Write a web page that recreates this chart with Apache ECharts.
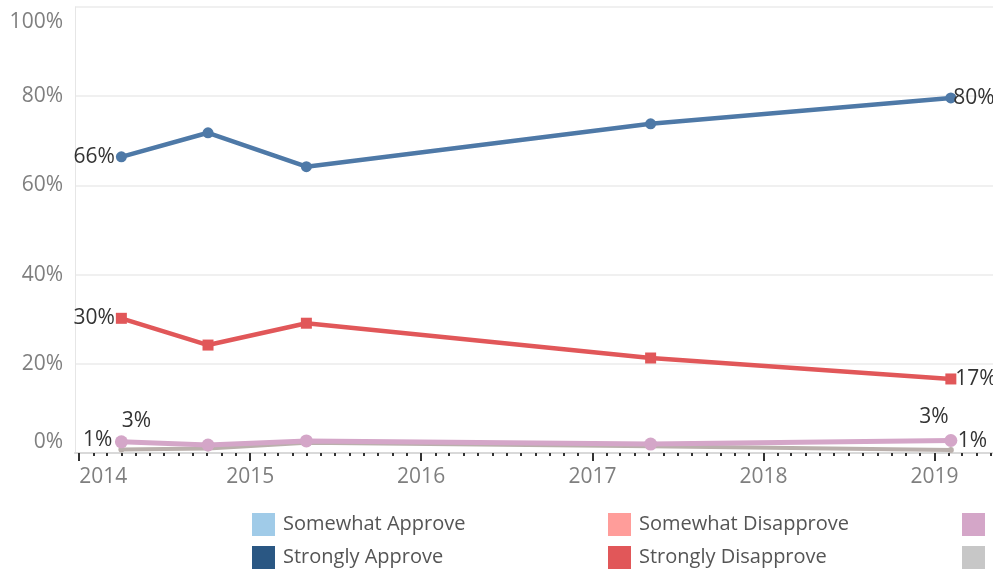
<!DOCTYPE html>
<html>
<head>
<meta charset="utf-8">
<script src="https://cdn.jsdelivr.net/npm/echarts@6/dist/echarts.min.js"></script>
<style>
html,body{margin:0;padding:0;background:#fff;}
#chart{width:993px;height:569px;}
</style>
</head>
<body>
<div id="chart"></div>
<script>
// ---- data ----
const dates = ['2014-04-01', '2014-10-03', '2015-05-01', '2017-05-05', '2019-02-05'];
const stronglyApprove = [66.4, 71.8, 64.2, 73.8, 79.6];
const stronglyDisapprove = [30.2, 24.2, 29.1, 21.3, 16.6];
const neither = [2.5, 1.8, 2.7, 2.0, 2.8];
const dontKnow = [0.8, 1.0, 2.3, 1.5, 0.7];
const yearTicks = [2014, 2015, 2016, 2017, 2018, 2019];
const legendNames = ['Somewhat Approve', 'Strongly Approve', 'Somewhat Disapprove', 'Strongly Disapprove', 'Neither', "Don't Know"];

const FONT = 'Open Sans';
function ts(s) { const p = s.split('-').map(Number); return Date.UTC(p[0], p[1] - 1, p[2]); }
const xMin = Date.UTC(2013, 11, 23);
const xMax = Date.UTC(2019, 4, 6);
const yearValues = yearTicks.map(y => Date.UTC(y, 0, 1));
const monthValues = [];
for (let y = 2014; y <= 2019; y++) {
  for (let m = 0; m < 12; m++) {
    const t = Date.UTC(y, m, 1);
    if (t > xMin && t < xMax) monthValues.push(t);
  }
}

function build(values, firstLabel, lastLabel) {
  return values.map((v, i) => {
    const item = { value: [ts(dates[i]), v] };
    if (i === 0 && firstLabel) item.label = Object.assign({ show: true }, firstLabel);
    if (i === values.length - 1 && lastLabel) item.label = Object.assign({ show: true }, lastLabel);
    return item;
  });
}

const labelBase = {
  show: false,
  color: '#333',
  fontSize: 21,
  fontFamily: FONT,
  formatter: p => Math.round(p.value[1]) + '%'
};

const chart = echarts.init(document.getElementById('chart'), null, { renderer: 'canvas' });

function legendItem(name, color, left, top) {
  return {
    data: [{ name: name, itemStyle: { color: color } }],
    left: left, top: top,
    orient: 'horizontal',
    icon: 'rect',
    itemWidth: 23, itemHeight: 23,
    selectedMode: false,
    padding: 0,
    textStyle: { fontSize: 20, color: '#555', fontFamily: FONT, padding: [3, 0, 0, 3] }
  };
}

chart.setOption({
  animation: false,
  backgroundColor: '#fff',
  grid: { left: 75, right: 0, top: 7, bottom: 116, containLabel: false },
  legend: [
    legendItem(legendNames[0], '#a0cbe8', 252, 513),
    legendItem(legendNames[1], '#2a5783', 252, 546),
    legendItem(legendNames[2], '#ff9d9a', 608, 513),
    legendItem(legendNames[3], '#e15759', 608, 546),
    legendItem(legendNames[4], '#d4a6c8', 962, 513),
    legendItem(legendNames[5], '#c7c7c7', 962, 546)
  ],
  xAxis: [
    {
      type: 'value',
      min: xMin, max: xMax,
      position: 'bottom',
      axisLine: { show: true, lineStyle: { color: '#d9d9d9', width: 2 } },
      axisTick: { show: true, customValues: yearValues, length: 8, lineStyle: { color: '#333', width: 2 } },
      axisLabel: {
        customValues: yearValues,
        formatter: v => String(new Date(v).getUTCFullYear()),
        color: '#7f7f7f', fontSize: 21, fontFamily: FONT, margin: 14,
        alignMinLabel: 'left'
      },
      splitLine: { show: false }
    },
    {
      type: 'value',
      min: xMin, max: xMax,
      position: 'bottom',
      axisLine: { show: false },
      axisTick: { show: true, customValues: monthValues, length: 3, lineStyle: { color: '#333', width: 2 } },
      axisLabel: { show: false },
      splitLine: { show: false }
    }
  ],
  yAxis: {
    type: 'value',
    min: 0, max: 100, interval: 20,
    axisLine: { show: true, lineStyle: { color: '#e6e6e6', width: 1 } },
    axisTick: { show: false },
    axisLabel: {
      formatter: v => v === 100 ? '{top|100%}' : v + '%',
      rich: { top: { padding: [5, 0, 0, 0], color: '#7f7f7f', fontSize: 21, fontFamily: FONT } },
      color: '#7f7f7f', fontSize: 21, fontFamily: FONT, margin: 12,
      verticalAlignMinLabel: 'bottom', verticalAlignMaxLabel: 'top'
    },
    splitLine: { show: true, lineStyle: { color: '#ebebeb', width: 1.5 } }
  },
  series: [
    { name: legendNames[0], type: 'line', data: [], color: '#a0cbe8' },
    { name: legendNames[2], type: 'line', data: [], color: '#ff9d9a' },
    {
      name: legendNames[5], type: 'line', color: '#bab0ac',
      symbol: 'circle', symbolSize: 6,
      lineStyle: { width: 4, color: '#bab0ac' }, itemStyle: { color: '#bab0ac' },
      label: labelBase,
      data: build(dontKnow,
        { position: 'left', distance: 6, offset: [0, -9] },
        { position: 'right', distance: 4, offset: [0, -9] })
    },
    {
      name: legendNames[4], type: 'line', color: '#d4a6c8',
      symbol: 'circle', symbolSize: 13,
      lineStyle: { width: 5, color: '#d4a6c8' }, itemStyle: { color: '#d4a6c8' },
      label: labelBase,
      data: build(neither,
        { position: 'top', distance: 4, offset: [15, 0] },
        { position: 'top', distance: 6, offset: [-17, 0] })
    },
    {
      name: legendNames[3], type: 'line', color: '#e15759',
      symbol: 'rect', symbolSize: 11,
      lineStyle: { width: 4.5, color: '#e15759' }, itemStyle: { color: '#e15759' },
      label: labelBase,
      data: build(stronglyDisapprove,
        { position: 'left', distance: 1 },
        { position: 'right', distance: -1 })
    },
    {
      name: legendNames[1], type: 'line', color: '#4e79a7',
      symbol: 'circle', symbolSize: 11,
      lineStyle: { width: 4.5, color: '#4e79a7' }, itemStyle: { color: '#4e79a7' },
      label: labelBase,
      data: build(stronglyApprove,
        { position: 'left', distance: 1 },
        { position: 'right', distance: -3 })
    }
  ]
});
</script>
</body>
</html>
